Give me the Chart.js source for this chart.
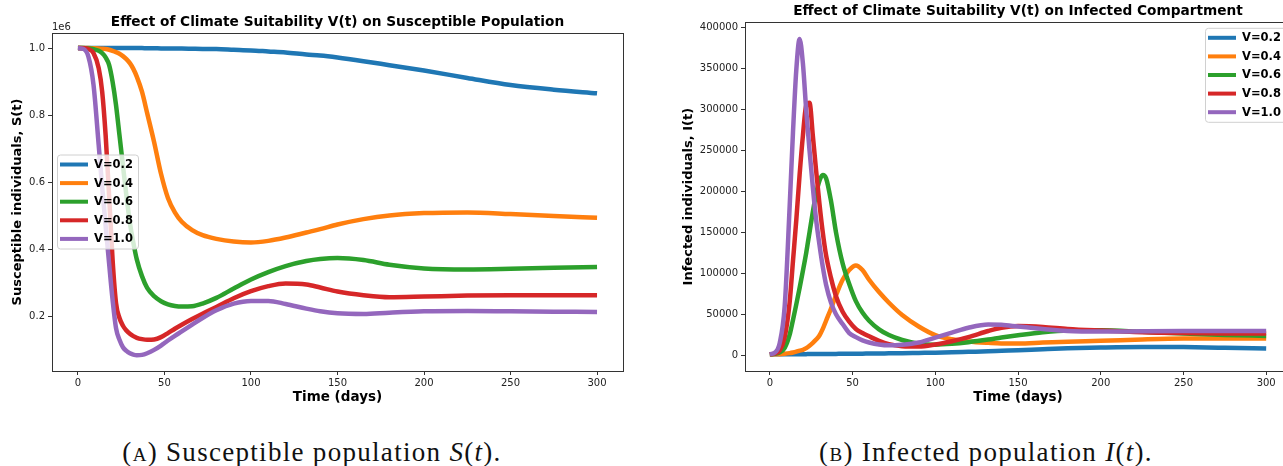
<!DOCTYPE html>
<html>
<head>
<meta charset="utf-8">
<script src="https://cdn.jsdelivr.net/npm/chart.js@4.4.1/dist/chart.umd.min.js"></script>
<style>
  html, body { margin: 0; padding: 0; background: #fff; overflow: hidden; width: 1283px; height: 466px; }
  .panel { position: absolute; top: 0; height: 420px; }
  #left { left: 0; width: 640px; }
  #right { left: 640px; width: 660px; }
  .caption { position: absolute; top: 439px; font-family: "Liberation Serif", serif; font-size: 27px; line-height: 1; letter-spacing: 1.3px; color: #111; white-space: nowrap; transform: translateX(-50%); }
  .sc { font-variant: small-caps; }
</style>
</head>
<body>
<div class="panel" id="left"><canvas id="chartS"></canvas></div>
<div class="panel" id="right"><canvas id="chartI"></canvas></div>
<div class="caption" style="left:312px">(<span class="sc">a</span>) Susceptible population <i>S</i>(<i>t</i>).</div>
<div class="caption" style="left:986px">(<span class="sc">b</span>) Infected population <i>I</i>(<i>t</i>).</div>
<script>
// time grid (days) the values were read at
const days = [0, 3, 6, 9, 12, 14, 16, 18, 20, 22,
  24, 26, 28, 30, 32, 34, 37, 40, 44, 48,
  52, 56, 60, 66, 72, 80, 90, 100, 110, 120,
  132, 140, 150, 165, 180, 200, 225, 250, 275, 300];

const labels = ['V=0.2', 'V=0.4', 'V=0.6', 'V=0.8', 'V=1.0'];
const colors = ['#1f77b4', '#ff7f0e', '#2ca02c', '#d62728', '#9467bd'];

// susceptible S(t), in units of 1e6
const sV02 = [1.0, 1.0, 1.0, 1.0, 1.0, 1.0, 1.0, 1.0, 1.0, 1.0,
  1.0, 1.0, 1.0, 1.0, 1.0, 1.0, 1.0, 0.9995, 0.9995, 0.999,
  0.999, 0.999, 0.9985, 0.998, 0.9975, 0.997, 0.995, 0.993, 0.99, 0.987,
  0.981, 0.978, 0.972, 0.961, 0.949, 0.933, 0.911, 0.89, 0.876, 0.865];
const sV04 = [1.0, 1.0, 1.0, 0.9995, 0.999, 0.998, 0.997, 0.995, 0.992, 0.988,
  0.983, 0.976, 0.967, 0.955, 0.938, 0.915, 0.87, 0.806, 0.72, 0.625,
  0.553, 0.51, 0.482, 0.457, 0.442, 0.431, 0.423, 0.42, 0.425, 0.435,
  0.45, 0.46, 0.474, 0.49, 0.501, 0.508, 0.51, 0.505, 0.499, 0.494];
const sV06 = [1.0, 1.0, 0.999, 0.997, 0.992, 0.985, 0.972, 0.95, 0.9, 0.83,
  0.74, 0.65, 0.56, 0.48, 0.42, 0.37, 0.32, 0.285, 0.26, 0.245,
  0.236, 0.231, 0.229, 0.23, 0.238, 0.255, 0.283, 0.31, 0.332, 0.35,
  0.365, 0.371, 0.374, 0.368, 0.354, 0.343, 0.34, 0.342, 0.345, 0.347];
const sV08 = [1.0, 0.9995, 0.997, 0.985, 0.94, 0.87, 0.74, 0.56, 0.37, 0.24,
  0.195, 0.172, 0.158, 0.148, 0.141, 0.136, 0.132, 0.13, 0.131, 0.138,
  0.15, 0.163, 0.175, 0.192, 0.208, 0.228, 0.254, 0.275, 0.29, 0.298,
  0.295, 0.286, 0.274, 0.263, 0.257, 0.259, 0.262, 0.263, 0.263, 0.263];
const sV10 = [1.0, 0.998, 0.975, 0.89, 0.71, 0.585, 0.47, 0.358, 0.25, 0.165,
  0.13, 0.108, 0.097, 0.09, 0.086, 0.084, 0.085, 0.09, 0.1, 0.113,
  0.128, 0.142, 0.155, 0.175, 0.195, 0.218, 0.238, 0.246, 0.246, 0.237,
  0.223, 0.215, 0.209, 0.207, 0.211, 0.215, 0.216, 0.215, 0.214, 0.213];

// infected I(t), individuals
const iV02 = [1000, 1000, 1000, 1050, 1100, 1100, 1150, 1200, 1200, 1250,
  1300, 1300, 1350, 1400, 1400, 1450, 1500, 1550, 1600, 1700,
  1750, 1850, 1900, 2000, 2200, 2400, 2700, 3000, 3400, 4000,
  4700, 5300, 6000, 7200, 8300, 9300, 10000, 9800, 9000, 8000];
const iV04 = [1000, 1000, 1200, 1700, 2500, 3300, 4300, 5500, 6500, 8500,
  11500, 15000, 19000, 24000, 32000, 42000, 57000, 73000, 92000, 104000,
  109500, 104000, 92000, 77000, 64000, 49000, 35000, 24500, 19500, 16800,
  15000, 14200, 14200, 15300, 16500, 17500, 19200, 20300, 20400, 20300];
const iV06 = [1000, 1500, 3500, 9000, 25000, 43000, 62000, 82000, 103000, 125000,
  150000, 175000, 197000, 213000, 220000, 216000, 188000, 150000, 112000, 87000,
  66000, 52000, 42000, 31500, 24500, 18500, 14000, 12800, 13800, 15800,
  19000, 21500, 24300, 28000, 30200, 30500, 28500, 26400, 24700, 23500];
const iV08 = [1000, 2000, 6000, 22000, 65000, 115000, 165000, 220000, 268000, 305000,
  308000, 268000, 225000, 185000, 150000, 122000, 94000, 72000, 53000, 41000,
  32000, 27000, 23000, 17500, 13500, 11000, 10500, 13000, 17000, 22000,
  29500, 33500, 35500, 34500, 32000, 30000, 28000, 27000, 26500, 26400];
const iV10 = [1000, 3000, 15000, 60000, 182000, 272000, 348000, 386000, 356000, 299000,
  250000, 205000, 165000, 135000, 108000, 86000, 64000, 50000, 38000, 27000,
  22000, 18000, 15500, 13000, 12000, 12800, 15500, 21500, 27500, 33500,
  37500, 37000, 35000, 32000, 29500, 28800, 29200, 29500, 29600, 29600];

const xTicks = [0, 50, 100, 150, 200, 250, 300];
const sTicks = [0.2, 0.4, 0.6, 0.8, 1.0];
const iTicks = [0, 50000, 100000, 150000, 200000, 250000, 300000, 350000, 400000];

const FONT = 'DejaVu Sans';

function makeDatasets(list) {
  return list.map((vals, k) => ({
    label: labels[k],
    data: days.map((d, i) => ({ x: d, y: vals[i] })),
    borderColor: colors[k],
    backgroundColor: colors[k],
    borderWidth: 4.5,
    pointRadius: 0,
    cubicInterpolationMode: 'monotone',
    fill: false,
    order: list.length - k
  }));
}

// axes frame, "1e6" offset label and matplotlib-like legend box
const framePlugin = {
  id: 'frame',
  afterDatasetsDraw(chart, args, opts) {
    const { ctx, chartArea: a } = chart;
    ctx.save();
    ctx.strokeStyle = '#333';
    ctx.lineWidth = 1;
    ctx.strokeRect(Math.round(a.left) + 0.5, Math.round(a.top) + 0.5,
      Math.round(a.right - a.left), Math.round(a.bottom - a.top));

    if (opts.offsetText) {
      ctx.fillStyle = '#222';
      ctx.font = '10px "' + FONT + '"';
      ctx.textAlign = 'left';
      ctx.textBaseline = 'alphabetic';
      ctx.fillText(opts.offsetText, a.left, a.top - 3);
    }

    const lg = opts.legend;
    const w = 81, h = 94;
    const bx = lg.right != null ? a.right - lg.right - w : a.left + lg.left;
    const by = a.top + lg.top;
    ctx.beginPath();
    ctx.roundRect(bx + 0.5, by + 0.5, w, h, 3);
    ctx.fillStyle = 'rgba(255,255,255,0.8)';
    ctx.fill();
    ctx.strokeStyle = '#d0d0d0';
    ctx.stroke();
    ctx.font = 'bold 11.5px "' + FONT + '"';
    ctx.textBaseline = 'middle';
    chart.data.datasets.forEach((ds, i) => {
      const y = by + 10 + i * 18.6;
      ctx.strokeStyle = ds.borderColor;
      ctx.lineWidth = 4;
      ctx.beginPath();
      ctx.moveTo(bx + 3, y);
      ctx.lineTo(bx + 31, y);
      ctx.stroke();
      ctx.fillStyle = '#000';
      ctx.fillText(ds.label, bx + 37, y + 0.5);
    });
    ctx.restore();
  }
};

function tickOpts(cb) {
  return { color: '#222', font: { family: FONT, size: 10 }, padding: 3, autoSkip: false, maxRotation: 0, callback: cb };
}
const gridOpts = { display: true, drawOnChartArea: false, drawTicks: true, tickLength: 4, color: '#333' };

function makeChart(id, datasets, cfg) {
  return new Chart(document.getElementById(id), {
    type: 'line',
    data: { datasets: datasets },
    plugins: [framePlugin],
    options: {
      responsive: true,
      maintainAspectRatio: false,
      animation: false,
      layout: { padding: { left: 0, right: cfg.padRight, top: 0, bottom: 0 } },
      plugins: {
        legend: { display: false },
        tooltip: { enabled: false },
        title: {
          display: true, text: cfg.title, color: '#000', fullSize: false,
          font: { family: FONT, size: 13.7, weight: 'bold' },
          padding: cfg.titlePad
        },
        frame: { offsetText: cfg.offsetText, legend: cfg.legend }
      },
      scales: {
        x: {
          type: 'linear', min: -15, max: 315,
          afterBuildTicks: s => { s.ticks = xTicks.map(v => ({ value: v })); },
          afterFit: s => { s.height = 49; },
          ticks: Object.assign(tickOpts(v => String(v)), { padding: 2 }),
          grid: gridOpts,
          border: { display: false },
          title: {
            display: true, text: 'Time (days)', color: '#000',
            font: { family: FONT, size: 13.5, weight: 'bold' },
            padding: { top: 0, bottom: 14 }
          }
        },
        y: {
          type: 'linear', min: cfg.yMin, max: cfg.yMax,
          afterBuildTicks: s => { s.ticks = cfg.yTicks.map(v => ({ value: v })); },
          afterFit: s => { s.width = cfg.yWidth; },
          ticks: tickOpts(cfg.yFormat),
          grid: gridOpts,
          border: { display: false },
          title: {
            display: true, text: cfg.yTitle, color: '#000',
            font: { family: FONT, size: 13, weight: 'bold' },
            padding: { top: cfg.yTitleOffset, bottom: 0 }
          }
        }
      }
    }
  });
}

makeChart('chartS', makeDatasets([sV02, sV04, sV06, sV08, sV10]), {
  title: 'Effect of Climate Suitability V(t) on Susceptible Population',
  titlePad: { top: 14.5, bottom: 2.06 },
  padRight: 17,
  yMin: 0.037, yMax: 1.045, yTicks: sTicks,
  yFormat: v => v.toFixed(1),
  yWidth: 52, yTitle: 'Susceptible individuals, S(t)', yTitleOffset: 10,
  offsetText: '1e6',
  legend: { left: 5, top: 121.5 }
});

makeChart('chartI', makeDatasets([iV02, iV04, iV06, iV08, iV10]), {
  title: 'Effect of Climate Suitability V(t) on Infected Compartment',
  titlePad: { top: 3.1, bottom: 2.76 },
  padRight: 9,
  yMin: -19350, yMax: 406350, yTicks: iTicks,
  yFormat: v => String(v),
  yWidth: 105, yTitle: 'Infected individuals, I(t)', yTitleOffset: 40.6,
  offsetText: null,
  legend: { right: 5, top: 5.5 }
});
</script>
</body>
</html>
